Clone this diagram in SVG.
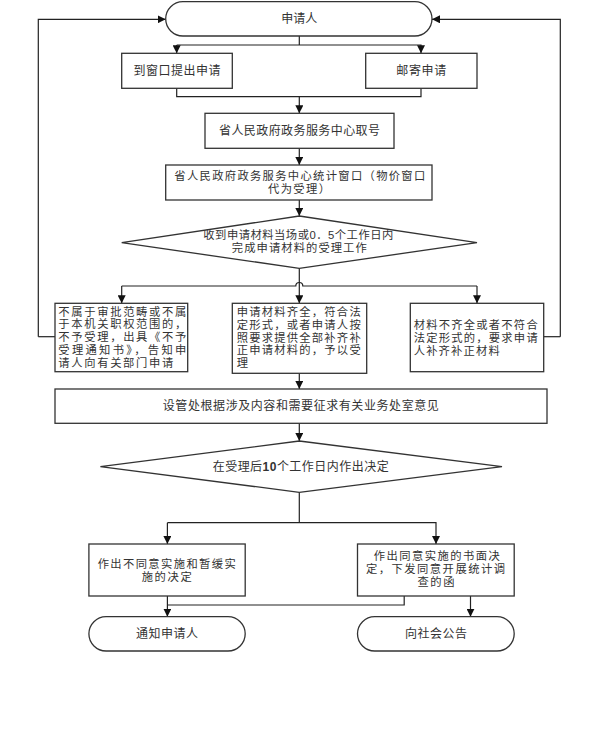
<svg xmlns="http://www.w3.org/2000/svg" width="597" height="747" viewBox="0 0 597 747">
<style>
.n{fill:#fff;stroke:#333;stroke-width:1.3}
.c{fill:none;stroke:#222;stroke-width:1.2}
.a{marker-end:url(#ar)}
text{font-family:"Liberation Sans","Noto Sans CJK SC",sans-serif;font-size:12px;fill:#333;dominant-baseline:central}
.m{text-anchor:middle}
.s{font-size:11.3px}
</style>
<defs>
<marker id="ar" viewBox="0 0 10 10" refX="10" refY="5" markerWidth="8" markerHeight="8" markerUnits="userSpaceOnUse" orient="auto">
<path d="M0 0L10 5L0 10z" fill="#111"/>
</marker>
</defs>
<rect width="597" height="747" fill="#fff"/>
<g id="connectors">
<path class="c a" d="M38.3 336.7V19.3H165.7"/>
<path class="c a" d="M560.3 336.7V19.3H432"/>
<path class="c" d="M38.3 336.7H55"/>
<path class="c" d="M560.3 336.7H543.7"/>
<path class="c" d="M299.3 36V45"/>
<path class="c a" d="M176.7 45H299.3H421V53.3"/>
<path class="c a" d="M176.7 45V53.3"/>
<path class="c" d="M176.7 88.3V96.7H421V88.3"/>
<path class="c a" d="M299.3 96.7V113.3"/>
<path class="c a" d="M299.3 148.3V165"/>
<path class="c a" d="M299.3 200V216"/>
<path class="c a" d="M299.3 268.3V303.3"/>
<path class="c" d="M121.7 286H295.8a3.5 3.5 0 0 1 7 0H477"/>
<path class="c a" d="M121.7 286V303.3"/>
<path class="c a" d="M477 286V303.3"/>
<path class="c a" d="M299.3 373.3V389"/>
<path class="c a" d="M299.3 423.3V441"/>
<path class="c" d="M299.3 492.3V522.7"/>
<path class="c a" d="M167.4 522.7H436V544"/>
<path class="c a" d="M167.4 522.7V544"/>
<path class="c a" d="M167.4 596V616.7"/>
<path class="c" d="M404.2 596V605H167.4"/>
<path class="c a" d="M470.5 596V616.7"/>
</g>
<g id="applicant">
<rect class="n" x="165.7" y="1.7" width="266.3" height="34.3" rx="17.2"/>
<text class="m" x="299.3" y="18.5" textLength="36" lengthAdjust="spacing">申请人</text>
</g>
<g id="window">
<rect class="n" x="121.7" y="53.3" width="110.6" height="35"/>
<text class="m" x="177" y="70.5" textLength="87" lengthAdjust="spacing">到窗口提出申请</text>
</g>
<g id="mail">
<rect class="n" x="365.7" y="53.3" width="111.3" height="35"/>
<text class="m" x="421.3" y="70.5" textLength="50" lengthAdjust="spacing">邮寄申请</text>
</g>
<g id="ticket">
<rect class="n" x="205" y="113.3" width="189" height="35"/>
<text class="m" x="299.5" y="130.5" textLength="161" lengthAdjust="spacing">省人民政府政务服务中心取号</text>
</g>
<g id="stat-window">
<rect class="n" x="165.7" y="165" width="266.3" height="35"/>
<text class="m s" x="299.8" y="175.5" textLength="251" lengthAdjust="spacing">省人民政府政务服务中心统计窗口（物价窗口</text>
<text class="m s" x="299" y="188.6" textLength="62" lengthAdjust="spacing">代为受理）</text>
</g>
<g id="decision1">
<polygon class="n" points="299.3,216 477,242.7 299.3,268.3 121.7,242.7"/>
<text class="m s" x="298.3" y="235" textLength="190" lengthAdjust="spacing">收到申请材料当场或0．5个工作日内</text>
<text class="m s" x="299.3" y="248.3" textLength="135" lengthAdjust="spacing">完成申请材料的受理工作</text>
</g>
<g id="reject">
<rect class="n" x="55" y="303.3" width="132.7" height="68.4"/>
<text class="s" x="58.3" y="311.5" textLength="128" lengthAdjust="spacing">不属于审批范畴或不属</text>
<text class="s" x="58.3" y="324.3" textLength="128" lengthAdjust="spacing">于本机关职权范围的，</text>
<text class="s" x="58.3" y="337.1" textLength="128" lengthAdjust="spacing">不予受理，出具《不予</text>
<text class="s" x="58.3" y="349.9" textLength="128" lengthAdjust="spacing">受理通知书》，告知申</text>
<text class="s" x="58.3" y="362.7" textLength="115" lengthAdjust="spacing">请人向有关部门申请</text>
</g>
<g id="accept">
<rect class="n" x="232.3" y="303.3" width="134.4" height="70"/>
<text class="s" x="236.7" y="312" textLength="124" lengthAdjust="spacing">申请材料齐全，符合法</text>
<text class="s" x="236.7" y="324.8" textLength="124" lengthAdjust="spacing">定形式，或者申请人按</text>
<text class="s" x="236.7" y="337.6" textLength="124" lengthAdjust="spacing">照要求提供全部补齐补</text>
<text class="s" x="236.7" y="350.4" textLength="124" lengthAdjust="spacing">正申请材料的，予以受</text>
<text class="s" x="236.7" y="363.2">理</text>
</g>
<g id="supplement">
<rect class="n" x="410.3" y="303.3" width="133.4" height="68.4"/>
<text class="s" x="413.7" y="325" textLength="124" lengthAdjust="spacing">材料不齐全或者不符合</text>
<text class="s" x="413.7" y="337.8" textLength="124" lengthAdjust="spacing">法定形式的，要求申请</text>
<text class="s" x="413.7" y="350.6" textLength="86" lengthAdjust="spacing">人补齐补正材料</text>
</g>
<g id="consult">
<rect class="n" x="55" y="389" width="492" height="34.3"/>
<text class="m" x="300.8" y="405.5" textLength="276" lengthAdjust="spacing">设管处根据涉及内容和需要征求有关业务处室意见</text>
</g>
<g id="decision2">
<polygon class="n" points="299.3,441 502,466.7 299.3,492.3 100.4,466.7"/>
<text class="m" x="300.7" y="466.7" textLength="176" lengthAdjust="spacing">在受理后<tspan font-weight="bold">10</tspan>个工作日内作出决定</text>
</g>
<g id="deny">
<rect class="n" x="88.9" y="544" width="156.3" height="52"/>
<text class="m s" x="166.7" y="563.5" textLength="138" lengthAdjust="spacing">作出不同意实施和暂缓实</text>
<text class="m s" x="166.7" y="577" textLength="50" lengthAdjust="spacing">施的决定</text>
</g>
<g id="approve">
<rect class="n" x="357.5" y="544" width="156.7" height="52"/>
<text class="m s" x="436.8" y="556" textLength="126" lengthAdjust="spacing">作出同意实施的书面决</text>
<text class="m s" x="435.5" y="569" textLength="139" lengthAdjust="spacing">定，下发同意开展统计调</text>
<text class="m s" x="436" y="582" textLength="37" lengthAdjust="spacing">查的函</text>
</g>
<g id="notify">
<rect class="n" x="88.9" y="616.7" width="156.3" height="34.3" rx="17.2"/>
<text class="m" x="167" y="633.5" textLength="62" lengthAdjust="spacing">通知申请人</text>
</g>
<g id="announce">
<rect class="n" x="357.5" y="616.7" width="156.7" height="34.3" rx="17.2"/>
<text class="m" x="436" y="633.5" textLength="62" lengthAdjust="spacing">向社会公告</text>
</g>
</svg>
